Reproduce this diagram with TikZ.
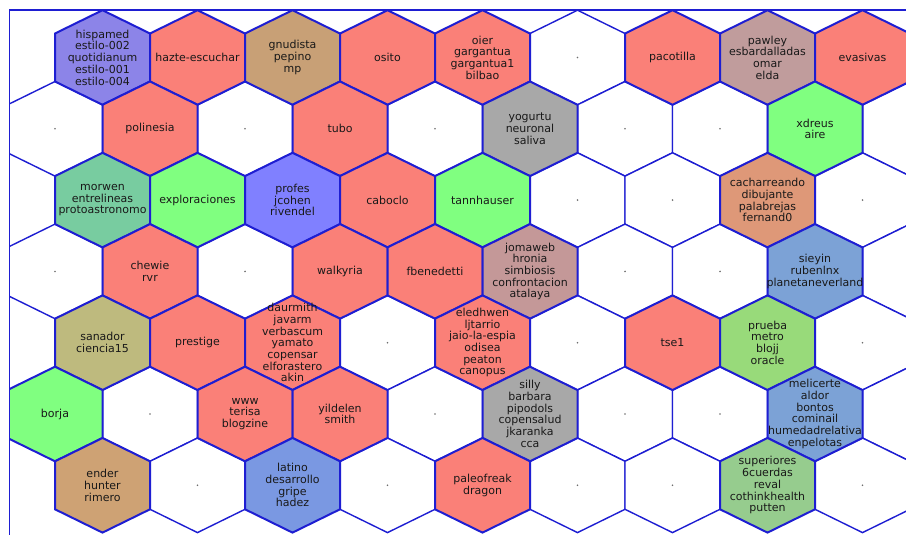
\documentclass[tikz,border=0pt]{standalone}
\usepackage{fontspec}
\newfontfamily\lblfont{DejaVu Sans}
\definecolor{edge}{RGB}{30,30,210}
\definecolor{txt}{RGB}{25,25,25}
\definecolor{markc}{RGB}{110,110,110}
\definecolor{csalmon}{RGB}{250,128,120}
\definecolor{cpurple}{RGB}{140,132,232}
\definecolor{ctan}{RGB}{200,160,118}
\definecolor{crosy}{RGB}{192,156,156}
\definecolor{crosy2}{RGB}{196,152,152}
\definecolor{cgreen}{RGB}{128,255,128}
\definecolor{cgray}{RGB}{168,168,168}
\definecolor{caqua}{RGB}{120,204,160}
\definecolor{cviolet}{RGB}{128,128,255}
\definecolor{ccopper}{RGB}{222,152,120}
\definecolor{csteel}{RGB}{124,162,214}
\definecolor{ckhaki}{RGB}{190,186,126}
\definecolor{clime}{RGB}{152,218,122}
\definecolor{ctan2}{RGB}{206,162,116}
\definecolor{cblue}{RGB}{122,152,226}
\definecolor{csage}{RGB}{150,204,142}
\begin{document}
\begin{tikzpicture}[x=1pt,y=-1pt,
  hexw/.style={draw=edge, line width=1.4pt, fill=white, line join=miter},
  hexc/.style={draw=edge, line width=2pt, line join=miter},
  lbl/.style={font=\lblfont\fontsize{11}{11.7}\selectfont, align=center, text=txt, inner sep=0pt},
  framel/.style={draw=edge, line width=1.6pt}]
\useasboundingbox (0,0) rectangle (906,535);
\fill[white] (0,0) rectangle (906,535);
% white (empty) cells
\foreach \r/\k in {0/5, 1/0, 1/2, 1/4, 1/6, 1/7, 1/9, 2/5, 2/6, 2/8, 3/0, 3/2, 3/6, 3/7, 3/9, 4/3, 4/5, 4/8, 5/1, 5/4, 5/6, 5/7, 5/9, 6/1, 6/3, 6/5, 6/6, 6/8} {
  \pgfmathsetmacro\cx{102.5+95*\k-47.5*mod(\r,2)}
  \pgfmathsetmacro\cy{57.5+71.3*\r}
  \draw[hexw] (\cx,\cy-47.3) -- (\cx+47.5,\cy-24) -- (\cx+47.5,\cy+24) -- (\cx,\cy+47.3) -- (\cx-47.5,\cy+24) -- (\cx-47.5,\cy-24) -- cycle;
  \fill[markc] (\cx,\cy) circle[radius=0.9pt];
}
\def\colcells{0/0/cpurple/{hispamed\\estilo-002\\quotidianum\\estilo-001\\estilo-004},
0/1/csalmon/{hazte-escuchar},
0/2/ctan/{gnudista\\pepino\\mp},
0/3/csalmon/{osito},
0/4/csalmon/{oier\\gargantua\\gargantua1\\bilbao},
0/6/csalmon/{pacotilla},
0/7/crosy/{pawley\\esbardalladas\\omar\\elda},
0/8/csalmon/{evasivas},
1/1/csalmon/{polinesia},
1/3/csalmon/{tubo},
1/5/cgray/{yogurtu\\neuronal\\saliva},
1/8/cgreen/{xdreus\\aire},
2/0/caqua/{morwen\\entrelineas\\protoastronomo},
2/1/cgreen/{exploraciones},
2/2/cviolet/{profes\\jcohen\\rivendel},
2/3/csalmon/{caboclo},
2/4/cgreen/{tannhauser},
2/7/ccopper/{cacharreando\\dibujante\\palabrejas\\fernand0},
3/1/csalmon/{chewie\\rvr},
3/3/csalmon/{walkyria},
3/4/csalmon/{fbenedetti},
3/5/crosy2/{jomaweb\\hronia\\simbiosis\\confrontacion\\atalaya},
3/8/csteel/{sieyin\\rubenlnx\\planetaneverland},
4/0/ckhaki/{sanador\\ciencia15},
4/1/csalmon/{prestige},
4/2/csalmon/{daurmith\\javarm\\verbascum\\yamato\\copensar\\elforastero\\akin},
4/4/csalmon/{eledhwen\\ljtarrio\\jaio-la-espia\\odisea\\peaton\\canopus},
4/6/csalmon/{tse1},
4/7/clime/{prueba\\metro\\blojj\\oracle},
5/0/cgreen/{borja},
5/2/csalmon/{www\\terisa\\blogzine},
5/3/csalmon/{yildelen\\smith},
5/5/cgray/{silly\\barbara\\pipodols\\copensalud\\jkaranka\\cca},
5/8/csteel/{melicerte\\aldor\\bontos\\cominail\\humedadrelativa\\enpelotas},
6/0/ctan2/{ender\\hunter\\rimero},
6/2/cblue/{latino\\desarrollo\\gripe\\hadez},
6/4/csalmon/{paleofreak\\dragon},
6/7/csage/{superiores\\6cuerdas\\reval\\cothinkhealth\\putten}}
% coloured cells
\foreach \r/\k/\c/\t in \colcells {
  \pgfmathsetmacro\cx{102.5+95*\k-47.5*mod(\r,2)}
  \pgfmathsetmacro\cy{57.5+71.3*\r}
  \draw[hexc, fill=\c] (\cx,\cy-47.3) -- (\cx+47.5,\cy-24) -- (\cx+47.5,\cy+24) -- (\cx,\cy+47.3) -- (\cx-47.5,\cy+24) -- (\cx-47.5,\cy-24) -- cycle;
}
% frame (mask the overshoot, then draw)
\fill[white] (0,0) rectangle (9.5,535);
\fill[white] (0,0) rectangle (906,9.6);
\draw[framel] (9.5,535) -- (9.5,10) -- (906,10);
% labels
\foreach \r/\k/\c/\t in \colcells {
  \pgfmathsetmacro\cx{102.5+95*\k-47.5*mod(\r,2)}
  \pgfmathsetmacro\cy{57.5+71.3*\r}
  \node[lbl] (n\r-\k) at (\cx,\cy) {\t};
}
\end{tikzpicture}
\end{document}
